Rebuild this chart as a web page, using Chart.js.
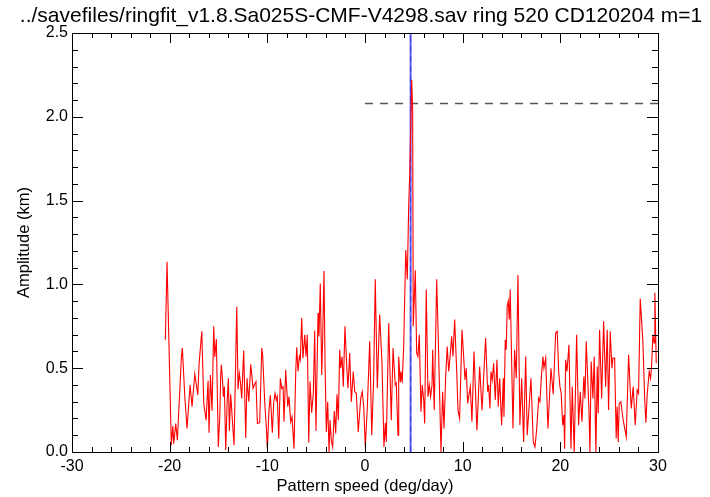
<!DOCTYPE html>
<html>
<head>
<meta charset="utf-8">
<script src="https://cdn.jsdelivr.net/npm/chart.js@4/dist/chart.umd.min.js"></script>
<style>
  html, body { margin: 0; padding: 0; background: #fff; }
  #wrap { width: 710px; height: 497px; }
</style>
</head>
<body>
<div id="wrap"><canvas id="ringChart" width="710" height="497"></canvas></div>
<script>
// --- Data ---
const chartTitle = "../savefiles/ringfit_v1.8.Sa025S-CMF-V4298.sav ring 520 CD120204 m=1";

// pattern speed (deg/day)
const speeds = [
  -20.44, -20.27, -19.83, -19.68, -19.58, -19.38, -19.21, -18.80, -18.70, -18.45,
  -18.22, -17.91, -17.71, -17.43, -17.12, -16.99, -16.71, -16.51, -16.27, -16.07,
  -15.97, -15.83, -15.66, -15.49, -15.38, -15.22, -15.02, -14.87, -14.77, -14.71,
  -14.61, -14.50, -14.40, -14.26, -14.12, -13.99, -13.89, -13.75, -13.58, -13.41,
  -13.13, -13.00, -12.87, -12.76, -12.62, -12.42, -12.21, -12.08, -11.90, -11.70,
  -11.46, -11.33, -11.16, -11.02,
  -10.78, -10.57, -10.47, -10.27, -10.10, -10.00, -9.83, -9.69, -9.49, -9.34,
  -9.21, -9.08, -8.98, -8.83, -8.67, -8.53, -8.39, -8.29, -8.12, -7.91,
  -7.78, -7.61, -7.47, -7.27, -7.09, -6.99, -6.86, -6.72, -6.62, -6.48,
  -6.35, -6.17, -6.04, -5.91, -5.76, -5.63, -5.46, -5.29, -5.15, -5.02,
  -4.81, -4.71, -4.58, -4.43, -4.33, -4.20, -4.09, -3.96, -3.82, -3.68,
  -3.58, -3.45, -3.31, -3.14, -3.00, -2.87, -2.73, -2.59, -2.49, -2.35,
  -2.22, -2.05, -1.87, -1.74, -1.57, -1.40, -1.20, -1.05, -0.89, -0.69,
  -0.44, -0.28, -0.13, 0.03, 0.24, 0.48, 0.69, 0.89, 1.05, 1.26,
  1.50, 1.74, 1.94, 2.08, 2.18, 2.43, 2.69, 2.87, 3.10, 3.20,
  3.38, 3.45, 3.61, 3.68, 3.82, 3.96, 4.17, 4.33, 4.47, 4.58,
  4.68, 4.78, 4.88, 4.94, 5.15, 5.29, 5.42, 5.56, 5.73, 5.86,
  6.01, 6.11, 6.27, 6.45, 6.58, 6.72, 6.86, 6.93, 7.09, 7.34,
  7.54, 7.78, 7.95, 8.09, 8.26, 8.42, 8.57, 8.70, 8.87, 9.01,
  9.18, 9.39, 9.52,
  9.69, 9.93, 10.10, 10.24, 10.37, 10.51, 10.78, 10.95, 11.16, 11.46,
  11.74, 11.98, 12.35, 12.56, 12.66, 12.79, 12.90, 13.03, 13.17, 13.34,
  13.51, 13.64, 13.79, 13.99, 14.16, 14.23, 14.36, 14.46, 14.56, 14.67,
  14.77, 14.87, 15.05, 15.15, 15.32, 15.49, 15.66, 15.86, 16.04, 16.24,
  16.45, 16.61, 16.79, 16.99, 17.16, 17.23, 17.40, 17.57, 17.78, 17.91,
  18.05, 18.22, 18.32, 18.50, 18.73, 19.04, 19.27, 19.52, 19.68, 19.83, 19.96,
  20.09, 20.24, 20.37, 20.44, 20.54, 20.68, 20.88, 21.09, 21.22, 21.42,
  21.67, 21.87, 22.04, 22.21, 22.41, 22.52, 22.65, 22.93, 23.03, 23.16,
  23.34, 23.47, 23.64, 23.78, 23.88, 24.02, 24.23, 24.43, 24.64, 24.80,
  24.94, 25.11, 25.28, 25.38, 25.56, 25.72, 25.82, 25.93, 26.03, 26.20,
  26.41, 26.61, 26.75, 26.99, 27.16, 27.26, 27.46, 27.67, 27.87, 28.01,
  28.18, 28.45, 28.63, 28.76, 28.89, 29.10, 29.24, 29.34, 29.48, 29.61,
  29.68, 29.82
];

// amplitude (km), same order as speeds
const amps = [
  0.67, 1.135, 0.04, 0.155, 0.05, 0.17, 0.07, 0.566, 0.62, 0.33,
  0.14, 0.40, 0.27, 0.465, 0.34, 0.525, 0.72, 0.29, 0.19, 0.425,
  0.115, 0.46, 0.246, 0.75, 0.567, 0.674, 0.03, 0.21, 0.46, 0.52,
  0.45, 0.33, 0.39, 0.01, 0.29, 0.44, 0.125, 0.345, 0.19, 0.04,
  0.867, 0.375, 0.47, 0.42, 0.32, 0.605, 0.083, 0.44, 0.30, 0.523,
  0.38, 0.40, 0.42, 0.17,
  0.175, 0.62, 0.57, 0.30, 0.147, 0.02, 0.25, 0.34, 0.115, 0.30,
  0.35, 0.31, 0.33, 0.08, 0.44, 0.38, 0.39, 0.18, 0.49, 0.27,
  0.33, 0.18, 0.21, 0.02, 0.48, 0.625, 0.48, 0.57, 0.55, 0.80,
  0.56, 0.70, 0.57, 0.70, 0.056, 0.42, 0.235, 0.35, 0.725, 0.125,
  0.83, 0.69, 1.005, 0.46, 0.69, 1.08, 0.52, 0.12, 0.30, 0.0,
  0.19, 0.07, 0.03, 0.245, 0.11, 0.345, 0.19, 0.61, 0.50, 0.57,
  0.39, 0.75, 0.51, 0.38, 0.59, 0.30, 0.48, 0.36, 0.35, 0.12,
  0.32, 0.36, 0.27, 0.03, 0.27, 0.66, 0.10, 0.45, 1.03, 0.38,
  0.82, 0.53, 0.03, 0.175, 0.06, 0.77, 0.19, 0.62, 0.40, 0.41,
  0.10, 0.57, 0.42, 0.48, 0.43, 0.625, 1.205, 1.03, 1.46, 1.66,
  1.94, 2.22, 2.04, 0.75, 1.085, 0.59, 0.57, 0.70, 0.24, 0.40,
  0.31, 0.17, 0.97, 0.33, 0.40, 0.33, 0.40, 0.61, 0.25, 1.03,
  0.59, 0.0, 0.36, 0.14, 0.45, 0.63, 0.48, 0.56, 0.69, 0.57,
  0.79, 0.48, 0.25,
  0.20, 0.73, 0.57, 0.43, 0.50, 0.29, 0.39, 0.18, 0.60, 0.13,
  0.51, 0.25, 0.68, 0.36, 0.40, 0.26, 0.48, 0.43, 0.53, 0.31,
  0.55, 0.27, 0.44, 0.16, 0.44, 0.21, 0.67, 0.61, 0.87, 0.90,
  0.79, 0.97, 0.44, 0.14, 0.61, 0.44, 1.056, 0.16, 0.44, 0.06,
  0.57, 0.10, 0.26, 0.44, 0.17, 0.06, 0.03, 0.13, 0.32, 0.30,
  0.44, 0.57, 0.50, 0.56, 0.14, 0.50, 0.345, 0.71, 0.72, 0.48, 0.39,
  0.35, 0.16, 0.22, 0.02, 0.55, 0.48, 0.64, 0.02, 0.39, 0.0,
  0.70, 0.16, 0.36, 0.18, 0.45, 0.32, 0.66, 0.25, 0.0, 0.54,
  0.32, 0.57, 0.0, 0.51, 0.23, 0.73, 0.32, 0.78, 0.39, 0.73,
  0.25, 0.72, 0.50, 0.56, 0.56, 0.08, 0.27, 0.06, 0.29, 0.30,
  0.20, 0.135, 0.09, 0.58, 0.37, 0.26, 0.39, 0.16, 0.37, 0.35,
  0.915, 0.66, 0.33, 0.175, 0.34, 0.48, 0.44, 0.51, 0.70, 0.65,
  0.95, 0.53
];

// fitted pattern speed (vertical marker) and threshold level (dashed line)
const markerSpeed = [4.67, 4.67];
const markerAmp = [0, 2.5];
const thresholdSpeed = [0, 30];
const thresholdAmp = [2.08, 2.08];

// tick labels
const xTickValues = [-30, -20, -10, 0, 10, 20, 30];
const yTickValues = [0, 0.5, 1.0, 1.5, 2.0, 2.5];

const FONT = '"Liberation Sans", Arial, Helvetica, sans-serif';

function pairs(xs, ys) {
  return xs.map((v, i) => ({ x: v, y: ys[i] }));
}

// --- IDL style frame: box with inward ticks on all four sides + title ---
const idlFrame = {
  id: "idlFrame",
  afterDraw(chart) {
    const { ctx, chartArea: a, scales: { x, y } } = chart;
    ctx.save();
    ctx.strokeStyle = "#000";
    ctx.lineWidth = 1;
    ctx.strokeRect(Math.round(a.left) + 0.5, Math.round(a.top) + 0.5,
      Math.round(a.right - a.left), Math.round(a.bottom - a.top));

    ctx.beginPath();
    for (let v = -30; v <= 30; v += 2) {
      const px = Math.round(x.getPixelForValue(v)) + 0.5;
      const len = v % 10 === 0 ? 10 : 5;
      ctx.moveTo(px, a.bottom); ctx.lineTo(px, a.bottom - len);
      ctx.moveTo(px, a.top); ctx.lineTo(px, a.top + len);
    }
    for (let i = 0; i <= 25; i++) {
      const py = Math.round(y.getPixelForValue(i / 10)) + 0.5;
      const len = i % 5 === 0 ? 11 : 6;
      ctx.moveTo(a.left, py); ctx.lineTo(a.left + len, py);
      ctx.moveTo(a.right, py); ctx.lineTo(a.right - len, py);
    }
    ctx.stroke();

    ctx.fillStyle = "#000";
    ctx.font = "21px " + FONT;
    ctx.textAlign = "center";
    ctx.textBaseline = "middle";
    ctx.fillText(chartTitle, 361, 16);
    ctx.restore();
  }
};

const ctx = document.getElementById("ringChart").getContext("2d");
new Chart(ctx, {
  type: "line",
  data: {
    datasets: [
      {
        label: "Amplitude",
        data: pairs(speeds, amps),
        borderColor: "#ff0000",
        borderWidth: 1.1,
        pointRadius: 0,
        tension: 0
      },
      {
        label: "Threshold",
        data: pairs(thresholdSpeed, thresholdAmp),
        borderColor: "#555555",
        borderWidth: 1.5,
        borderDash: [8, 7],
        pointRadius: 0
      },
      {
        label: "Fit speed",
        data: pairs(markerSpeed, markerAmp),
        borderColor: "rgba(70, 70, 255, 0.85)",
        borderWidth: 2,
        pointRadius: 0
      },
      {
        label: "Fit speed (dash)",
        data: pairs(markerSpeed, markerAmp),
        borderColor: "#00006e",
        borderWidth: 1,
        borderDash: [6, 4],
        pointRadius: 0
      }
    ]
  },
  options: {
    responsive: false,
    animation: false,
    layout: { padding: { top: 33, left: 0, right: 0, bottom: 0 } },
    plugins: {
      legend: { display: false },
      tooltip: { enabled: false },
      title: { display: false }
    },
    scales: {
      x: {
        type: "linear",
        min: -30,
        max: 30,
        afterBuildTicks: s => { s.ticks = xTickValues.map(v => ({ value: v })); },
        afterFit: s => { s.height = 45; },
        grid: { display: false, drawTicks: false },
        border: { display: false },
        ticks: {
          color: "#000",
          font: { family: FONT, size: 16 },
          padding: 5,
          maxRotation: 0,
          callback: v => String(v)
        },
        title: {
          display: true,
          text: "Pattern speed (deg/day)",
          color: "#000",
          font: { family: FONT, size: 16.5 },
          padding: { top: 0, bottom: 1 }
        }
      },
      y: {
        type: "linear",
        min: 0,
        max: 2.5,
        afterBuildTicks: s => { s.ticks = yTickValues.map(v => ({ value: v })); },
        afterFit: s => { s.width = 72; },
        grid: { display: false, drawTicks: false },
        border: { display: false },
        ticks: {
          color: "#000",
          font: { family: FONT, size: 16 },
          padding: 4,
          callback: v => Number(v).toFixed(1)
        },
        title: {
          display: true,
          text: "Amplitude (km)",
          color: "#000",
          font: { family: FONT, size: 16.5 },
          padding: { top: 15, bottom: 0 }
        }
      },
      yRight: {
        position: "right",
        display: true,
        afterFit: s => { s.width = 52; },
        grid: { display: false, drawTicks: false },
        border: { display: false },
        ticks: { display: false }
      }
    }
  },
  plugins: [idlFrame]
});
</script>
</body>
</html>
